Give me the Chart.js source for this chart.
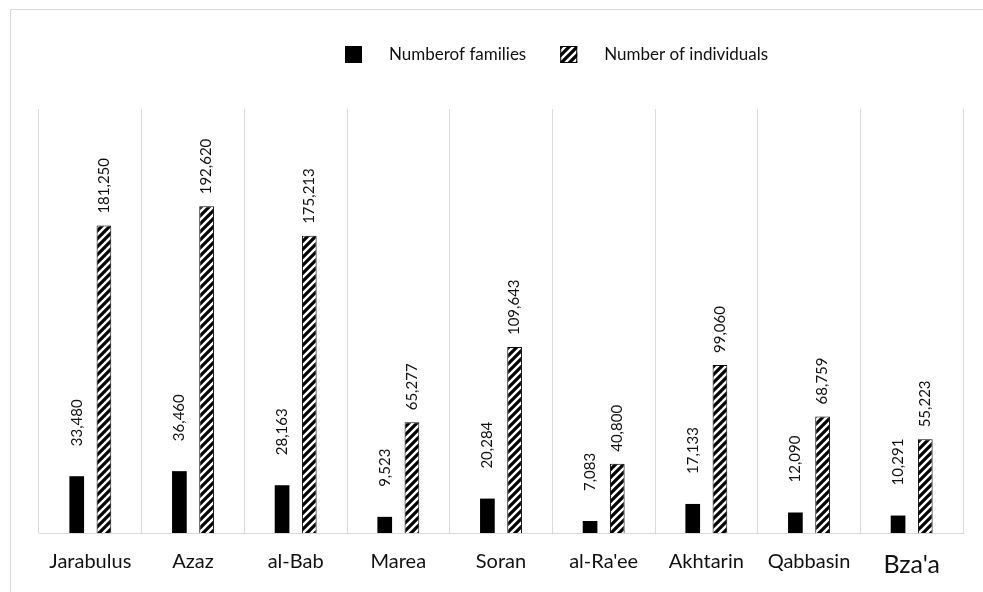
<!DOCTYPE html>
<html>
<head>
<meta charset="utf-8">
<script src="https://cdn.jsdelivr.net/npm/chart.js@4.4.1/dist/chart.umd.min.js"></script>
<style>
  body { margin: 0; background: #fff; }
  canvas { display: block; }
</style>
</head>
<body>
<canvas id="displacementChart" width="983" height="592"></canvas>
<script>
// districts and counts
const categories = ["Jarabulus", "Azaz", "al-Bab", "Marea", "Soran", "al-Ra'ee", "Akhtarin", "Qabbasin", "Bza'a"];
const families = [33480, 36460, 28163, 9523, 20284, 7083, 17133, 12090, 10291];
const individuals = [181250, 192620, 175213, 65277, 109643, 40800, 99060, 68759, 55223];
const seriesNames = ["Numberof families", "Number of individuals"];

Chart.defaults.font.family = "Lato, 'Open Sans', sans-serif";
Chart.defaults.color = "#000";

// wide upward diagonal hatch, like the excel fill
function makeHatch() {
  const c = document.createElement("canvas");
  c.width = 8; c.height = 8;
  const g = c.getContext("2d");
  g.fillStyle = "#fff";
  g.fillRect(0, 0, 8, 8);
  g.strokeStyle = "#000";
  g.lineWidth = 3.2;
  g.beginPath();
  g.moveTo(-2, 10); g.lineTo(10, -2);
  g.moveTo(-6, 6); g.lineTo(6, -6);
  g.moveTo(2, 14); g.lineTo(14, 2);
  g.stroke();
  return g.createPattern(c, "repeat");
}
const hatch = makeHatch();

// light frame round the whole figure
const framePlugin = {
  id: "frame",
  beforeDraw(chart) {
    const ctx = chart.ctx;
    ctx.save();
    ctx.strokeStyle = "#d9d9d9";
    ctx.lineWidth = 1;
    ctx.beginPath();
    ctx.moveTo(10.5, chart.height);
    ctx.lineTo(10.5, 9.5);
    ctx.lineTo(chart.width, 9.5);
    ctx.stroke();
    ctx.restore();
  }
};

// rotated value labels above each bar
const valueLabels = {
  id: "valueLabels",
  afterDatasetsDraw(chart) {
    const ctx = chart.ctx;
    ctx.save();
    ctx.font = "15px Lato";
    ctx.fillStyle = "#111";
    ctx.textAlign = "left";
    ctx.textBaseline = "middle";
    chart.data.datasets.forEach((ds, di) => {
      const gap = di === 0 ? 30 : 12;
      chart.getDatasetMeta(di).data.forEach((bar, i) => {
        ctx.save();
        ctx.translate(bar.x, bar.y - gap);
        ctx.rotate(-Math.PI / 2);
        ctx.fillText(ds.data[i].toLocaleString("en-US"), 0, 0);
        ctx.restore();
      });
    });
    ctx.restore();
  }
};

// legend drawn by hand so it can sit right of centre like the original
const topLegend = {
  id: "topLegend",
  afterDraw(chart) {
    const ctx = chart.ctx;
    let x = 345;
    const y = 46, box = 17;
    ctx.save();
    ctx.font = "17px Lato";
    ctx.textBaseline = "middle";
    chart.data.datasets.forEach(ds => {
      ctx.fillStyle = ds.backgroundColor;
      ctx.fillRect(x, y, box, box);
      if (ds.borderWidth) {
        ctx.strokeStyle = "#000";
        ctx.lineWidth = 1;
        ctx.strokeRect(x + 0.5, y + 0.5, box - 1, box - 1);
      }
      ctx.fillStyle = "#111";
      ctx.fillText(ds.label, x + box + 27, y + box / 2);
      x += box + 27 + ctx.measureText(ds.label).width + 34;
    });
    ctx.restore();
  }
};

const ctx = document.getElementById("displacementChart").getContext("2d");
new Chart(ctx, {
  type: "bar",
  data: {
    labels: categories,
    datasets: [
      {
        label: seriesNames[0],
        data: families,
        backgroundColor: "#000",
        borderWidth: 0,
        categoryPercentage: 0.53,
        barPercentage: 0.54
      },
      {
        label: seriesNames[1],
        data: individuals,
        backgroundColor: hatch,
        borderColor: "#000",
        borderWidth: 1,
        categoryPercentage: 0.53,
        barPercentage: 0.54
      }
    ]
  },
  options: {
    responsive: false,
    animation: false,
    layout: { padding: { left: 39, right: 20, top: 109, bottom: 14 } },
    plugins: {
      legend: { display: false },
      tooltip: { enabled: false }
    },
    scales: {
      x: {
        grid: { color: "#d9d9d9", drawTicks: false },
        border: { color: "#d9d9d9" },
        ticks: {
          padding: 17,
          color: "#111",
          font: c => ({ size: c.index === 8 ? 25 : 20 })
        },
        afterFit(scale) { scale.height = 45; }
      },
      y: {
        display: false,
        min: 0,
        max: 250000
      }
    }
  },
  plugins: [framePlugin, valueLabels, topLegend]
});
</script>
</body>
</html>
